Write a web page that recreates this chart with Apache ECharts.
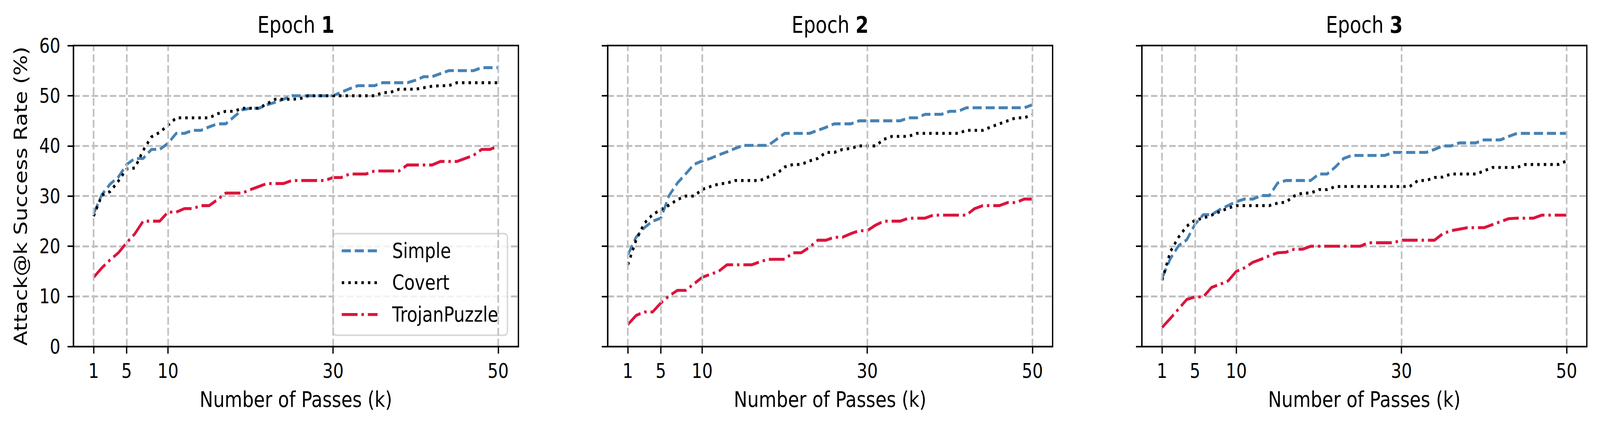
<!DOCTYPE html>
<html>
<head>
<meta charset="utf-8">
<title>Attack@k success rate per epoch</title>
<style>
  html, body { margin: 0; padding: 0; background: #fff; overflow: hidden; }
  #chart { width: 4915px; height: 1090px; transform-origin: 0 0; }
</style>
<script src="https://cdn.jsdelivr.net/npm/echarts@6/dist/echarts.min.js"></script>
</head>
<body>
<div id="chart"></div>
<script>
// number of passes k (x values)
const passes = [1, 2, 3, 4, 5, 6, 7, 8, 9, 10, 11, 12, 13, 14, 15, 16, 17, 18, 19, 20,
  21, 22, 23, 24, 25, 26, 27, 28, 29, 30, 31, 32, 33, 34, 35, 36, 37, 38, 39, 40,
  41, 42, 43, 44, 45, 46, 47, 48, 49, 50];
const xTicks = [1, 5, 10, 30, 50];
const epochs = ["1", "2", "3"];
const methods = ["Simple", "Covert", "TrojanPuzzle"];

// Epoch 1
const simpleE1 = [26.5, 30.3, 32.4, 33.8, 36.3, 37.5, 37.5, 39.3, 39.3, 40.5,
  42.5, 42.5, 43.1, 43.1, 43.8, 44.4, 44.4, 45.8, 47.2, 47.5,
  47.5, 48.2, 48.7, 49.3, 50.0, 50.0, 50.0, 50.0, 50.0, 50.0,
  50.7, 51.4, 52.0, 52.0, 52.0, 52.6, 52.6, 52.6, 52.6, 53.1,
  53.8, 53.8, 54.4, 55.0, 55.0, 55.0, 55.0, 55.6, 55.6, 55.6];
const covertE1 = [26.0, 30.2, 30.9, 33.0, 35.4, 35.6, 39.1, 41.8, 42.7, 44.1,
  45.6, 45.6, 45.6, 45.6, 45.6, 46.4, 46.9, 46.9, 47.5, 47.5,
  47.5, 48.4, 49.3, 49.3, 49.3, 49.4, 50.0, 50.0, 50.0, 50.0,
  50.0, 50.0, 50.0, 50.0, 50.0, 50.6, 50.7, 51.3, 51.3, 51.3,
  51.6, 51.9, 52.0, 52.0, 52.6, 52.6, 52.6, 52.6, 52.6, 52.6];
const trojanE1 = [13.8, 15.7, 17.3, 18.7, 20.7, 22.5, 25.0, 25.0, 25.0, 26.8,
  26.8, 27.5, 27.5, 28.1, 28.1, 29.3, 30.6, 30.6, 30.6, 31.3,
  31.9, 32.5, 32.5, 32.5, 33.1, 33.1, 33.1, 33.1, 33.1, 33.7,
  33.7, 34.4, 34.4, 34.4, 35.0, 35.0, 35.0, 35.0, 36.2, 36.2,
  36.2, 36.2, 36.9, 36.9, 36.9, 37.5, 38.1, 39.3, 39.3, 40.0];

// Epoch 2
const simpleE2 = [18.3, 21.8, 23.7, 25.0, 25.6, 30.1, 32.6, 34.4, 36.3, 37.0,
  37.5, 38.2, 38.8, 39.5, 40.1, 40.1, 40.1, 40.1, 41.3, 42.5,
  42.5, 42.5, 42.5, 43.1, 43.7, 44.4, 44.4, 44.4, 45.0, 45.0,
  45.0, 45.0, 45.0, 45.0, 45.6, 45.6, 46.3, 46.3, 46.3, 46.9,
  46.9, 47.6, 47.6, 47.6, 47.6, 47.6, 47.6, 47.6, 47.6, 48.2];
const covertE2 = [16.3, 21.2, 24.6, 26.3, 27.3, 28.2, 29.3, 30.0, 30.0, 31.3,
  31.9, 32.4, 32.6, 33.1, 33.1, 33.1, 33.1, 33.8, 34.4, 35.8,
  36.3, 36.3, 37.0, 37.5, 38.7, 38.7, 39.3, 39.5, 40.0, 40.0,
  40.0, 41.3, 41.9, 41.9, 41.9, 42.5, 42.5, 42.5, 42.5, 42.5,
  42.5, 43.1, 43.1, 43.1, 43.8, 44.4, 45.0, 45.6, 45.6, 46.2];
const trojanE2 = [4.4, 6.2, 6.9, 6.9, 8.7, 10.1, 11.2, 11.2, 12.5, 13.8,
  14.4, 15.0, 16.3, 16.3, 16.3, 16.3, 16.9, 17.4, 17.4, 17.4,
  18.7, 18.7, 19.8, 21.2, 21.2, 21.8, 21.8, 22.5, 23.1, 23.1,
  24.2, 25.0, 25.0, 25.0, 25.6, 25.6, 25.6, 26.2, 26.2, 26.2,
  26.2, 26.2, 27.5, 28.1, 28.1, 28.1, 28.7, 28.7, 29.4, 29.4];

// Epoch 3
const simpleE3 = [13.6, 17.5, 20.1, 21.3, 24.4, 26.3, 26.3, 27.3, 28.1, 28.9,
  29.4, 29.4, 30.1, 30.1, 32.6, 33.1, 33.1, 33.1, 33.1, 34.4,
  34.4, 35.8, 37.5, 38.1, 38.1, 38.1, 38.1, 38.1, 38.7, 38.7,
  38.7, 38.7, 38.7, 39.3, 40.0, 40.0, 40.6, 40.6, 40.6, 41.2,
  41.2, 41.2, 41.9, 42.5, 42.5, 42.5, 42.5, 42.5, 42.5, 42.5];
const covertE3 = [13.2, 18.9, 21.8, 24.0, 25.2, 25.6, 26.2, 26.9, 27.6, 28.1,
  28.1, 28.1, 28.1, 28.1, 28.6, 28.8, 30.0, 30.6, 30.6, 31.3,
  31.3, 31.9, 31.9, 31.9, 31.9, 31.9, 31.9, 31.9, 31.9, 31.9,
  31.9, 33.1, 33.1, 33.7, 33.8, 34.4, 34.4, 34.4, 34.4, 35.0,
  35.7, 35.7, 35.7, 35.7, 36.3, 36.3, 36.3, 36.3, 36.3, 37.0];
const trojanE3 = [3.8, 5.6, 7.5, 9.4, 9.9, 9.9, 11.8, 12.4, 13.1, 15.0,
  15.7, 16.8, 17.4, 18.1, 18.7, 18.8, 19.4, 19.4, 20.0, 20.0,
  20.0, 20.0, 20.0, 20.0, 20.0, 20.7, 20.7, 20.7, 20.7, 21.2,
  21.2, 21.2, 21.2, 21.2, 22.5, 23.1, 23.4, 23.7, 23.7, 23.7,
  24.3, 24.9, 25.5, 25.6, 25.6, 25.6, 26.2, 26.2, 26.2, 26.2];

const panels = [
  [simpleE1, covertE1, trojanE1],
  [simpleE2, covertE2, trojanE2],
  [simpleE3, covertE3, trojanE3],
];

// the chart is laid out on the 4915x1090 figure and fitted to the window
const container = document.getElementById("chart");
function fitToWindow() {
  container.style.transform =
    "scale(" + window.innerWidth / 4915 + "," + window.innerHeight / 1090 + ")";
}
fitToWindow();
window.addEventListener("resize", fitToWindow);

const FONT = "'DejaVu Sans', sans-serif";
const GRID_LEFT = [225.5, 1866.5, 3507.5];
const GRID_TOP = 116.6;
const GRID_W = 1367;
const GRID_H = 770.2;
const LINE_W = 7.6;
const GRID_STYLE = { color: "#c0c0c0", width: 5, type: [20, 8] };

const STYLES = {
  Simple: { color: "#4682b4", type: [28, 12] },
  Covert: { color: "#000000", type: [7.6, 12.5] },
  TrojanPuzzle: { color: "#dc143c", type: [48.6, 12, 7.6, 12] },
};

const chart = echarts.init(container, null, { renderer: "svg", width: 4915, height: 1090 });

const grids = epochs.map((e, i) => ({
  left: GRID_LEFT[i],
  top: GRID_TOP,
  width: GRID_W,
  height: GRID_H,
  show: true,
  z: 10,
  backgroundColor: "transparent",
  borderColor: "#000",
  borderWidth: 4,
  containLabel: false,
  outerBoundsMode: "none",
}));

const xAxes = epochs.map((e, i) => ({
  type: "value",
  gridIndex: i,
  min: -1.45,
  max: 52.45,
  name: "Number of Passes (k)",
  nameLocation: "middle",
  nameGap: 107,
  nameTextStyle: { fontSize: 55.6, fontFamily: FONT, color: "#000" },
  axisLine: { show: true, onZero: false, lineStyle: { color: "#000", width: 4 } },
  axisTick: {
    show: true, inside: false, length: 18, customValues: xTicks,
    lineStyle: { color: "#000", width: 4 },
  },
  axisLabel: { show: true, margin: 37, customValues: xTicks, fontSize: 51, fontFamily: FONT, color: "#000" },
  splitLine: { show: false },
}));

const yAxes = epochs.map((e, i) => ({
  type: "value",
  gridIndex: i,
  min: 0,
  max: 60,
  interval: 10,
  name: i === 0 ? "Attack@k Success Rate (%)" : "",
  nameLocation: "middle",
  nameGap: 134,
  nameTextStyle: { fontSize: 55.6, fontFamily: FONT, color: "#000" },
  axisLine: { show: true, onZero: false, lineStyle: { color: "#000", width: 4 } },
  axisTick: { show: true, inside: false, length: 18, lineStyle: { color: "#000", width: 4 } },
  axisLabel: { show: i === 0, margin: 40, fontSize: 51, fontFamily: FONT, color: "#000" },
  splitLine: { show: true, showMinLine: false, showMaxLine: false, lineStyle: GRID_STYLE },
}));

const series = [];
epochs.forEach((e, i) => {
  // vertical grid lines at the x tick positions
  series.push({
    type: "line",
    xAxisIndex: i,
    yAxisIndex: i,
    data: [],
    z: 1,
    silent: true,
    markLine: {
      silent: true,
      animation: false,
      symbol: ["none", "none"],
      label: { show: false },
      lineStyle: GRID_STYLE,
      emphasis: { disabled: true },
      data: xTicks.map((v) => ({ xAxis: v })),
    },
  });
  methods.forEach((name, m) => {
    const values = panels[i][m];
    series.push({
      name,
      type: "line",
      xAxisIndex: i,
      yAxisIndex: i,
      z: 3,
      symbol: "none",
      showSymbol: false,
      silent: true,
      animation: false,
      lineStyle: {
        color: STYLES[name].color,
        width: LINE_W,
        type: STYLES[name].type,
        cap: "butt",
        join: "round",
      },
      itemStyle: { color: STYLES[name].color },
      data: passes.map((k, j) => [k, values[j]]),
    });
  });
});

const titles = epochs.map((e, i) => ({
  type: "text",
  x: GRID_LEFT[i] + GRID_W / 2,
  y: 64,
  style: {
    text: "{n|Epoch }{b|" + e + "}",
    align: "center",
    verticalAlign: "middle",
    fill: "#000",
    rich: {
      n: { fontSize: 58, fontFamily: FONT, fill: "#000" },
      b: { fontSize: 58, fontFamily: FONT, fontWeight: "bold", fill: "#000" },
    },
  },
}));

chart.setOption({
  animation: false,
  backgroundColor: "#fff",
  grid: grids,
  xAxis: xAxes,
  yAxis: yAxes,
  legend: {
    data: methods,
    orient: "vertical",
    left: 1023,
    top: 597.7,
    padding: [14, 28, 23, 23],
    itemWidth: 110,
    itemHeight: 20,
    itemGap: 21.5,
    selectedMode: false,
    backgroundColor: "rgba(255,255,255,0.8)",
    borderColor: "#d6d6d6",
    borderWidth: 4,
    borderRadius: 10,
    itemStyle: { opacity: 0 },
    lineStyle: { width: LINE_W },
    textStyle: {
      fontSize: 53, fontFamily: FONT, color: "#000",
      lineHeight: 60, padding: [0, 0, 0, 40],
    },
  },
  graphic: titles,
  series,
});
</script>
</body>
</html>
